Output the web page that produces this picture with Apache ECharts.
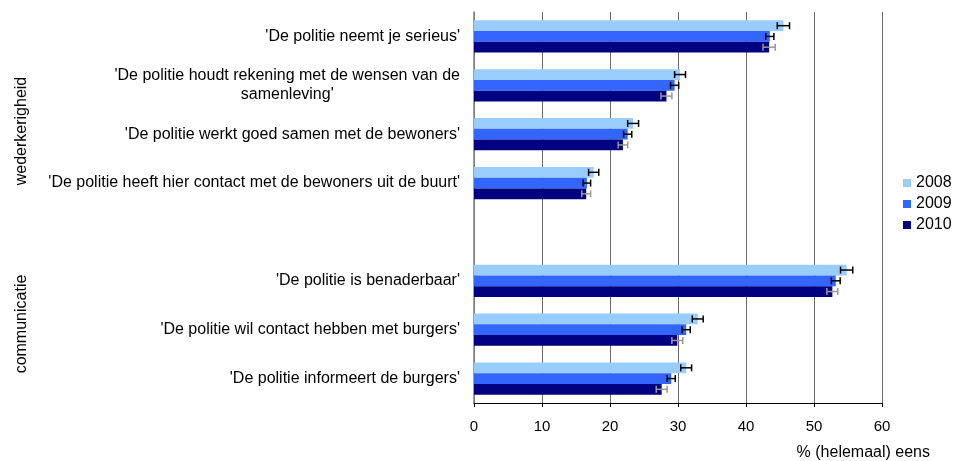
<!DOCTYPE html>
<html>
<head>
<meta charset="utf-8">
<script src="https://cdn.jsdelivr.net/npm/echarts@6/dist/echarts.min.js"></script>
<style>
html,body{margin:0;padding:0;background:#fff;}
#chart{width:953px;height:461px;}
</style>
</head>
<body>
<div id="chart"></div>
<script>
const categories = [
  "'De politie neemt je serieus'",
  "'De politie houdt rekening met de wensen van de\nsamenleving'",
  "'De politie werkt goed samen met de bewoners'",
  "'De politie heeft hier contact met de bewoners uit de buurt'",
  "",
  "'De politie is benaderbaar'",
  "'De politie wil contact hebben met burgers'",
  "'De politie informeert de burgers'"
];
const seriesNames = ['2008', '2009', '2010'];
const values2008 = [45.5, 30.3, 23.4, 17.6, null, 54.8, 32.9, 31.2];
const values2009 = [43.5, 29.5, 22.6, 16.6, null, 53.2, 31.2, 29.0];
const values2010 = [43.4, 28.3, 21.9, 16.5, null, 52.7, 29.9, 27.6];
const err2008 = [0.9, 0.8, 0.8, 0.75, null, 0.9, 0.8, 0.8];
const err2009 = [0.6, 0.6, 0.6, 0.55, null, 0.65, 0.6, 0.6];
const err2010 = [0.9, 0.8, 0.7, 0.65, null, 0.8, 0.8, 0.8];
const xTicks = [0, 10, 20, 30, 40, 50, 60];
const groupLabels = ['wederkerigheid', 'communicatie'];
const axisTitle = '% (helemaal) eens';

const barColors = ['#99CCFF', '#3366FF', '#000080'];
const errColors = ['#000000', '#000000', '#999999'];
const GAP = 0.34;
const FONT = '"Liberation Sans", Arial, sans-serif';

const allVals = [values2008, values2009, values2010];
const allErr = [err2008, err2009, err2010];

function errData(vals, errs) {
  const out = [];
  vals.forEach((v, i) => {
    if (v == null) return;
    out.push([i, v, v - errs[i], v + errs[i]]);
  });
  return out;
}

function makeErr(idx) {
  return function (params, api) {
    const cat = api.value(0);
    const lo = api.coord([api.value(2), cat]);
    const hi = api.coord([api.value(3), cat]);
    const band = api.size([0, 1])[1];
    const bw = band * (1 - GAP) / 3;
    const y = lo[1] + (idx - 1) * bw;
    const cap = 3.5;
    const st = { stroke: errColors[idx], lineWidth: 1.5 };
    return {
      type: 'group',
      children: [
        { type: 'line', shape: { x1: lo[0], y1: y, x2: hi[0], y2: y }, style: st },
        { type: 'line', shape: { x1: lo[0], y1: y - cap, x2: lo[0], y2: y + cap }, style: st },
        { type: 'line', shape: { x1: hi[0], y1: y - cap, x2: hi[0], y2: y + cap }, style: st }
      ]
    };
  };
}

const series = [];
seriesNames.forEach((n, i) => {
  series.push({
    name: n,
    type: 'bar',
    data: allVals[i],
    barGap: '0%',
    barCategoryGap: (GAP * 100) + '%',
    itemStyle: { color: barColors[i] },
    silent: true,
    z: 2
  });
});
seriesNames.forEach((n, i) => {
  series.push({
    name: n + ' err',
    type: 'custom',
    renderItem: makeErr(i),
    data: errData(allVals[i], allErr[i]),
    encode: { x: [1, 2, 3], y: 0 },
    z: 5,
    silent: true
  });
});

const chart = echarts.init(document.getElementById('chart'), null, { renderer: 'canvas' });
chart.setOption({
  animation: false,
  backgroundColor: '#fff',
  textStyle: { fontFamily: FONT },
  grid: { left: 474, right: 71, top: 12, bottom: 58, containLabel: false },
  legend: {
    data: seriesNames,
    orient: 'vertical',
    left: 903,
    top: 175,
    padding: 0,
    itemWidth: 8,
    itemHeight: 8,
    itemGap: 5,
    icon: 'rect',
    textStyle: { fontSize: 16, color: '#000', fontFamily: FONT }
  },
  xAxis: {
    type: 'value',
    min: xTicks[0],
    max: xTicks[xTicks.length - 1],
    interval: 10,
    axisLine: { show: true, lineStyle: { color: '#000', width: 1 } },
    axisTick: { show: true, length: 4, lineStyle: { color: '#000' } },
    axisLabel: { fontSize: 15, color: '#000', margin: 16, fontFamily: FONT },
    splitLine: { show: true, lineStyle: { color: '#6a6a6a', width: 1 } }
  },
  yAxis: {
    type: 'category',
    data: categories,
    inverse: true,
    axisLine: { show: true, lineStyle: { color: '#808080', width: 1.5 } },
    axisTick: { show: false },
    axisLabel: {
      fontSize: 16,
      color: '#000',
      margin: 14,
      lineHeight: 19,
      fontFamily: FONT,
      formatter: function (v) {
        if (!v) return '';
        return v.split('\n').map(s => '{c|' + s + '}').join('\n');
      },
      rich: { c: { align: 'center', fontSize: 16, color: '#000', lineHeight: 19, fontFamily: FONT } }
    },
    splitLine: { show: false }
  },
  graphic: [
    { type: 'text', x: 22, y: 131, rotation: Math.PI / 2, style: { text: groupLabels[0], font: '16px ' + FONT, fill: '#000', align: 'center', verticalAlign: 'middle' } },
    { type: 'text', x: 22, y: 324, rotation: Math.PI / 2, style: { text: groupLabels[1], font: '16px ' + FONT, fill: '#000', align: 'center', verticalAlign: 'middle' } },
    { type: 'text', right: 23, top: 445, style: { text: axisTitle, font: '16px ' + FONT, fill: '#000' } }
  ],
  series: series
});
</script>
</body>
</html>
